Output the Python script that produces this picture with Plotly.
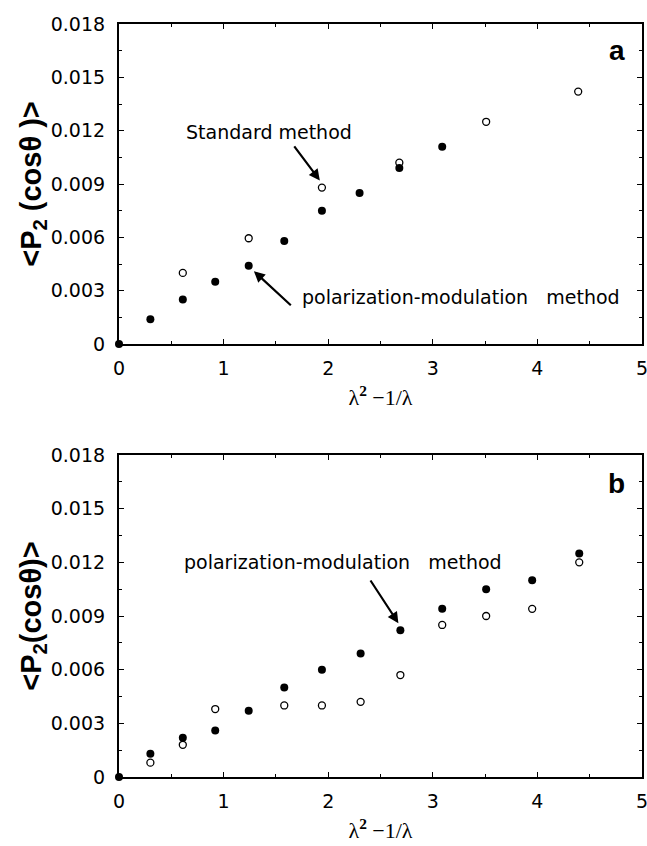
import plotly.graph_objects as go

# Panel a data
a_std_x = [0.61, 1.24, 1.94, 2.68, 3.51, 4.39]
a_std_y = [0.0040, 0.00595, 0.0088, 0.0102, 0.0125, 0.0142]
a_pm_x = [0.0, 0.30, 0.61, 0.92, 1.24, 1.58, 1.94, 2.30, 2.68, 3.09]
a_pm_y = [0.0, 0.0014, 0.0025, 0.0035, 0.0044, 0.0058, 0.0075, 0.0085, 0.0099, 0.0111]

# Panel b data
b_std_x = [0.30, 0.61, 0.92, 1.58, 1.94, 2.31, 2.69, 3.09, 3.51, 3.95, 4.40]
b_std_y = [0.0008, 0.0018, 0.0038, 0.0040, 0.0040, 0.0042, 0.0057, 0.0085, 0.0090, 0.0094, 0.0120]
b_pm_x = [0.0, 0.30, 0.61, 0.92, 1.24, 1.58, 1.94, 2.31, 2.69, 3.09, 3.51, 3.95, 4.40]
b_pm_y = [0.0, 0.0013, 0.0022, 0.0026, 0.0037, 0.0050, 0.0060, 0.0069, 0.0082, 0.0094, 0.0105, 0.0110, 0.0125]

x_ticks = [0, 1, 2, 3, 4, 5]
y_ticks = [0, 0.003, 0.006, 0.009, 0.012, 0.015, 0.018]
y_tick_text = ["0", "0.003", "0.006", "0.009", "0.012", "0.015", "0.018"]

fig = go.Figure()

open_marker = dict(symbol="circle-open", size=7, color="black", line=dict(width=1.3, color="black"))
filled_marker = dict(symbol="circle", size=8, color="black")

fig.add_trace(go.Scatter(x=a_std_x, y=a_std_y, mode="markers", marker=open_marker,
                         xaxis="x", yaxis="y", cliponaxis=False, name="Standard method"))
fig.add_trace(go.Scatter(x=a_pm_x, y=a_pm_y, mode="markers", marker=filled_marker,
                         xaxis="x", yaxis="y", cliponaxis=False, name="polarization-modulation method"))
fig.add_trace(go.Scatter(x=b_std_x, y=b_std_y, mode="markers", marker=open_marker,
                         xaxis="x2", yaxis="y2", cliponaxis=False, name="Standard method"))
fig.add_trace(go.Scatter(x=b_pm_x, y=b_pm_y, mode="markers", marker=filled_marker,
                         xaxis="x2", yaxis="y2", cliponaxis=False, name="polarization-modulation method"))

SANS = "DejaVu Sans, Arial"
tickfont = dict(family=SANS, size=19, color="black")

def xaxis(anchor):
    return dict(range=[0, 5], tickvals=x_ticks, ticks="inside", ticklen=5, tickwidth=1.3,
                tickcolor="black", showline=True, linecolor="black", linewidth=2.2,
                mirror="allticks", showgrid=False, zeroline=False, anchor=anchor,
                tickfont=tickfont, ticklabelstandoff=6, automargin=False,
                ticklabeloverflow="allow",
                minor=dict(dtick=0.5, ticks="inside", ticklen=3, tickcolor="black", tickwidth=1),
                title=dict(text="λ<sup><b>2</b></sup> −1/λ",
                           font=dict(family="Liberation Serif, Times New Roman", size=22, color="black"),
                           standoff=12))

def yaxis(anchor, domain, title):
    return dict(range=[0, 0.018], domain=domain, tickvals=y_ticks, ticktext=y_tick_text,
                ticks="inside", ticklen=5, tickwidth=1.3, tickcolor="black",
                showline=True, linecolor="black", linewidth=2.2, mirror="allticks",
                showgrid=False, zeroline=False, anchor=anchor, tickfont=tickfont,
                ticklabelstandoff=8, automargin=False, ticklabeloverflow="allow",
                minor=dict(dtick=0.0015, ticks="inside", ticklen=3, tickcolor="black", tickwidth=1),
                title=dict(text=title,
                           font=dict(family="Liberation Sans, Arial", size=29, color="black"),
                           standoff=0))

fig.update_layout(
    width=647, height=846,
    margin=dict(l=119, r=5, t=24, b=69),
    paper_bgcolor="white", plot_bgcolor="white",
    showlegend=False,
    xaxis=xaxis("y"),
    yaxis=yaxis("x", [0.575, 1.0], "<b>&lt;P<sub>2</sub> (cosθ )&gt;</b>"),
    xaxis2=xaxis("y2"),
    yaxis2=yaxis("x2", [0.0, 0.4276], "<b>&lt;P<sub>2</sub>(cosθ)&gt;</b>"),
)

ann_font = dict(family=SANS, size=19, color="black")
label_font = dict(family="Liberation Sans, Arial", size=28, color="black")
fig.update_layout(annotations=[
    dict(text="<b>a</b>", x=4.86, y=0.0165, xref="x", yref="y", showarrow=False,
         xanchor="right", yanchor="middle", font=label_font),
    dict(text="<b>b</b>", x=4.86, y=0.0164, xref="x2", yref="y2", showarrow=False,
         xanchor="right", yanchor="middle", font=label_font),
    dict(text="Standard method", x=1.43, y=0.0119, xref="x", yref="y", showarrow=False,
         font=ann_font),
    dict(text="", x=1.92, y=0.0092, xref="x", yref="y", ax=1.665, ay=0.0112,
         axref="x", ayref="y", showarrow=True, arrowhead=2, arrowsize=1, arrowwidth=2.2,
         arrowcolor="black"),
    dict(text="polarization-modulation\u00a0\u00a0\u00a0method", x=3.27, y=0.00263, xref="x", yref="y",
         showarrow=False, font=ann_font),
    dict(text="", x=1.29, y=0.0041, xref="x", yref="y", ax=1.657, ay=0.0021,
         axref="x", ayref="y", showarrow=True, arrowhead=2, arrowsize=1, arrowwidth=2.2,
         arrowcolor="black"),
    dict(text="polarization-modulation\u00a0\u00a0\u00a0method", x=2.144, y=0.01204, xref="x2", yref="y2",
         showarrow=False, font=ann_font),
    dict(text="", x=2.671, y=0.0086, xref="x2", yref="y2", ax=2.395, ay=0.01107,
         axref="x2", ayref="y2", showarrow=True, arrowhead=2, arrowsize=1, arrowwidth=2.2,
         arrowcolor="black"),
])

# Remove the browser's default 8px body margin so the figure sits at the page origin,
# and hide the mode bar.
fig.write_html("out.html",
               config={"displayModeBar": False},
               post_script="document.body.style.margin='0';document.body.style.overflow='hidden';")
